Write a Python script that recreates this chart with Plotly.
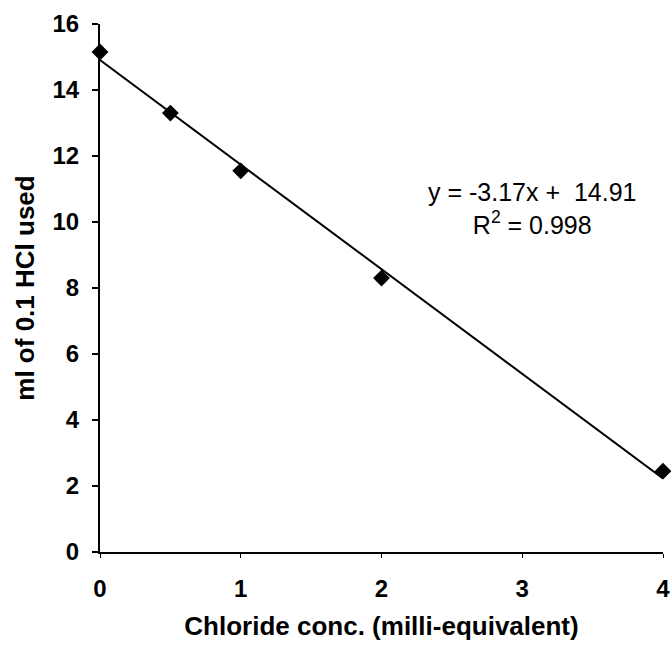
import plotly.graph_objects as go

conc = [0, 0.5, 1, 2, 4]
hcl_ml = [15.15, 13.3, 11.55, 8.3, 2.45]
slope = -3.17
intercept = 14.91
fit_x = [0, 4]
fit_y = [intercept + slope * v for v in fit_x]
x_ticks = [0, 1, 2, 3, 4]
y_ticks = [0, 2, 4, 6, 8, 10, 12, 14, 16]

FONT = "Liberation Sans, Arial, sans-serif"

fig = go.Figure()
fig.add_trace(go.Scatter(x=fit_x, y=fit_y, mode="lines",
                         line=dict(color="black", width=2), showlegend=False,
                         cliponaxis=False))
fig.add_trace(go.Scatter(x=conc, y=hcl_ml, mode="markers",
                         marker=dict(symbol="diamond", size=13, color="black"),
                         showlegend=False, cliponaxis=False))

fig.add_annotation(x=3.07, y=10.4, xref="x", yref="y",
                   text="y = -3.17x +  14.91<br>R<sup>2</sup> = 0.998",
                   showarrow=False, align="center",
                   font=dict(family=FONT, size=25, color="black"))

fig.update_layout(
    width=671, height=649,
    margin=dict(l=100, r=8, t=24, b=97, autoexpand=False),
    plot_bgcolor="white", paper_bgcolor="white",
    font=dict(family=FONT, color="black"),
    xaxis=dict(range=[0, 4], tickvals=x_ticks, showgrid=False, zeroline=False,
               showline=True, linecolor="black", linewidth=2,
               ticks="outside", ticklen=4, tickwidth=1, tickcolor="black",
               tickfont=dict(family=FONT, size=24, color="black", weight="bold"),
               ticklabelstandoff=10, automargin=False,
               title=dict(text="Chloride conc. (milli-equivalent)",
                          font=dict(family=FONT, size=26, color="black", weight="bold"),
                          standoff=16)),
    yaxis=dict(range=[0, 16], tickvals=y_ticks, showgrid=False, zeroline=False,
               showline=True, linecolor="black", linewidth=2,
               ticks="outside", ticklen=6, tickwidth=2, tickcolor="black",
               tickfont=dict(family=FONT, size=24, color="black", weight="bold"),
               ticklabelstandoff=8, automargin=False,
               title=dict(text="ml of 0.1 HCl used",
                          font=dict(family=FONT, size=26, color="black", weight="bold"),
                          standoff=10)),
)

fig.write_html("out.html", config={"displayModeBar": False},
               post_script="document.body.style.margin='0';document.body.style.overflow='hidden';")
